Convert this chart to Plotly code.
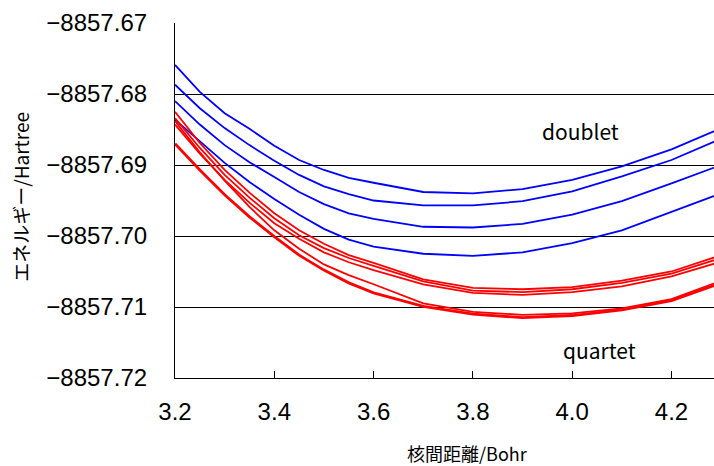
import plotly.graph_objects as go

r = [3.20, 3.25, 3.30, 3.35, 3.40, 3.45, 3.50, 3.55, 3.60, 3.70, 3.80, 3.90, 4.00, 4.10, 4.20, 4.30]

doublet_1 = [-8857.6759, -8857.6797, -8857.6827, -8857.6849, -8857.6873, -8857.6893, -8857.6907, -8857.6918,
             -8857.6925, -8857.6938, -8857.6940, -8857.6934, -8857.6921, -8857.6902, -8857.6878, -8857.6848]
doublet_2 = [-8857.6787, -8857.6820, -8857.6848, -8857.6872, -8857.6894, -8857.6914, -8857.6930, -8857.6941,
             -8857.6950, -8857.6957, -8857.6957, -8857.6951, -8857.6937, -8857.6916, -8857.6893, -8857.6863]
doublet_3 = [-8857.6810, -8857.6843, -8857.6872, -8857.6896, -8857.6917, -8857.6938, -8857.6955, -8857.6968,
             -8857.6976, -8857.6987, -8857.6988, -8857.6983, -8857.6970, -8857.6951, -8857.6926, -8857.6900]
doublet_4 = [-8857.6836, -8857.6867, -8857.6897, -8857.6924, -8857.6948, -8857.6970, -8857.6990, -8857.7005,
             -8857.7015, -8857.7025, -8857.7028, -8857.7023, -8857.7010, -8857.6992, -8857.6966, -8857.6940]

quartet_1 = [-8857.6825, -8857.6869, -8857.6907, -8857.6939, -8857.6968, -8857.6992, -8857.7011, -8857.7027,
             -8857.7038, -8857.7061, -8857.7073, -8857.7075, -8857.7072, -8857.7063, -8857.7050, -8857.7027]
quartet_2 = [-8857.6834, -8857.6876, -8857.6914, -8857.6946, -8857.6975, -8857.6999, -8857.7017, -8857.7031,
             -8857.7042, -8857.7064, -8857.7077, -8857.7079, -8857.7075, -8857.7066, -8857.7053, -8857.7031]
quartet_3 = [-8857.6843, -8857.6884, -8857.6921, -8857.6953, -8857.6982, -8857.7004, -8857.7023, -8857.7037,
             -8857.7048, -8857.7068, -8857.7080, -8857.7083, -8857.7079, -8857.7071, -8857.7057, -8857.7036]
quartet_4 = [-8857.6838, -8857.6882, -8857.6922, -8857.6959, -8857.6992, -8857.7018, -8857.7040, -8857.7055,
             -8857.7068, -8857.7095, -8857.7107, -8857.7111, -8857.7109, -8857.7102, -8857.7089, -8857.7063]
quartet_5 = [-8857.6870, -8857.6907, -8857.6942, -8857.6973, -8857.7001, -8857.7027, -8857.7048, -8857.7066,
             -8857.7080, -8857.7099, -8857.7110, -8857.7115, -8857.7112, -8857.7104, -8857.7091, -8857.7066]

x_ticks = [3.2, 3.4, 3.6, 3.8, 4.0, 4.2]
x_tick_labels = ["3.2", "3.4", "3.6", "3.8", "4.0", "4.2"]
y_ticks = [-8857.72, -8857.71, -8857.70, -8857.69, -8857.68, -8857.67]
y_tick_labels = ["\u22128857.72", "\u22128857.71", "\u22128857.70", "\u22128857.69", "\u22128857.68", "\u22128857.67"]

BLUE = "#0000FF"
RED = "#FF0000"

fig = go.Figure()
for ys in [doublet_1, doublet_2, doublet_3, doublet_4]:
    fig.add_trace(go.Scatter(x=r, y=ys, mode="lines", line=dict(color=BLUE, width=1.8),
                             showlegend=False, hoverinfo="skip"))
for ys, w in [(quartet_1, 1.8), (quartet_2, 1.8), (quartet_3, 1.8), (quartet_4, 1.8), (quartet_5, 2.8)]:
    fig.add_trace(go.Scatter(x=r, y=ys, mode="lines", line=dict(color=RED, width=w),
                             showlegend=False, hoverinfo="skip"))

tick_font = dict(family="Liberation Sans, Arial, sans-serif", size=24, color="#000")
jp_font = "Noto Sans CJK JP, sans-serif"

fig.update_layout(
    width=714, height=466,
    margin=dict(l=175, r=0, t=23, b=88, autoexpand=False),
    paper_bgcolor="white", plot_bgcolor="white",
    xaxis=dict(range=[3.2, 4.2856], tickvals=x_ticks, ticktext=x_tick_labels,
               tickfont=tick_font, ticks="inside", ticklen=7, tickcolor="#000",
               showline=True, linecolor="#000", linewidth=1.2, showgrid=False,
               zeroline=False, ticklabelstandoff=12, automargin=False),
    yaxis=dict(range=[-8857.72, -8857.67], tickvals=y_ticks, ticktext=y_tick_labels,
               tickfont=tick_font, ticks="inside", ticklen=5, tickcolor="#000",
               showline=True, linecolor="#000", linewidth=1.2,
               showgrid=True, gridcolor="#000", gridwidth=1, zeroline=False,
               ticklabelstandoff=22, automargin=False),
    annotations=[
        dict(text="エネルギー/Hartree", xref="paper", yref="paper", x=-0.286, y=0.51,
             textangle=-90, showarrow=False, font=dict(family=jp_font, size=19, color="#000"),
             xanchor="center", yanchor="middle"),
        dict(text="核間距離/Bohr", xref="paper", yref="paper", x=0.543, y=-0.212,
             showarrow=False, font=dict(family=jp_font, size=18, color="#000"),
             xanchor="center", yanchor="middle"),
        dict(text="doublet", x=4.0167, y=-8857.6852, showarrow=False,
             font=dict(family=jp_font, size=21, color="#000"), xanchor="center", yanchor="middle"),
        dict(text="quartet", x=4.055, y=-8857.7161, showarrow=False,
             font=dict(family=jp_font, size=21, color="#000"), xanchor="center", yanchor="middle"),
    ],
)

fig.write_html("out.html", config={"displayModeBar": False},
               post_script="document.body.style.margin='0px';document.body.style.padding='0px';")
